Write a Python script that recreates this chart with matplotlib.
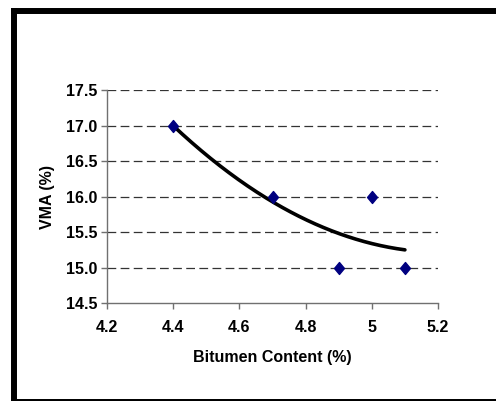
import numpy as np
import matplotlib
matplotlib.use("Agg")
import matplotlib.pyplot as plt
from matplotlib.path import Path
from matplotlib.lines import Line2D

plt.rcParams['font.family'] = ['Liberation Sans', 'DejaVu Sans']
plt.rcParams['font.weight'] = 'bold'

# Measured VMA against bitumen content
bitumen = [4.4, 4.7, 4.9, 5.0, 5.1]
vma = [17.0, 16.0, 15.0, 16.0, 15.0]

x_ticks = [4.2, 4.4, 4.6, 4.8, 5.0, 5.2]
x_tick_labels = ["4.2", "4.4", "4.6", "4.8", "5", "5.2"]
y_ticks = [14.5, 15.0, 15.5, 16.0, 16.5, 17.0, 17.5]

W, H = 496, 401
fig = plt.figure(figsize=(W / 100, H / 100), dpi=100)

# Thick frame around the chart area: left, top and bottom edges only
left_x, top_y, bot_y = 14 / W, (H - 11) / H, -1.0 / H
frame = dict(transform=fig.transFigure, color='black', linewidth=4.3,
             solid_capstyle='projecting')
fig.lines.append(Line2D([left_x, left_x], [bot_y, top_y], **frame))
fig.lines.append(Line2D([left_x, 1.05], [top_y, top_y], **frame))
fig.lines.append(Line2D([left_x, 1.05], [bot_y, bot_y], **frame))

ax = fig.add_axes([107 / W, (H - 303.3) / H, (438 - 107) / W, (303.3 - 90) / H])

# Second-order polynomial trendline
coef = np.polyfit(bitumen, vma, 2)
xs = np.linspace(min(bitumen), max(bitumen), 200)
ax.plot(xs, np.polyval(coef, xs), color='black', lw=2.6, zorder=3,
        solid_capstyle='round')

diamond = Path([(0, 1), (0.83, 0), (0, -1), (-0.83, 0), (0, 1)],
               [Path.MOVETO, Path.LINETO, Path.LINETO, Path.LINETO, Path.CLOSEPOLY])
ax.plot(bitumen, vma, linestyle='none', marker=diamond, markersize=8.6,
        color='#000080', zorder=4, clip_on=False)

ax.set_xlim(4.2, 5.2)
ax.set_ylim(14.5, 17.5)
ax.set_xticks(x_ticks)
ax.set_xticklabels(x_tick_labels)
ax.set_yticks(y_ticks)
ax.set_yticklabels([f"{v:.1f}" for v in y_ticks])

for v in y_ticks[1:]:
    ax.axhline(v, color='#333333', lw=0.9, linestyle=(0, (7, 3.5)), zorder=1)

for s in ['top', 'right']:
    ax.spines[s].set_visible(False)
for s in ['left', 'bottom']:
    ax.spines[s].set_color('#707070')
    ax.spines[s].set_linewidth(1.0)

ax.tick_params(axis='both', direction='out', length=4, width=1.0,
               color='#707070', labelsize=11.5, pad=3)
ax.tick_params(axis='x', pad=8)

ax.set_xlabel("Bitumen Content (%)", fontsize=11.5, fontweight='bold', labelpad=11)
ax.set_ylabel("VMA (%)", fontsize=11.5, fontweight='bold', labelpad=8)

fig.savefig("out.png", dpi=100)
